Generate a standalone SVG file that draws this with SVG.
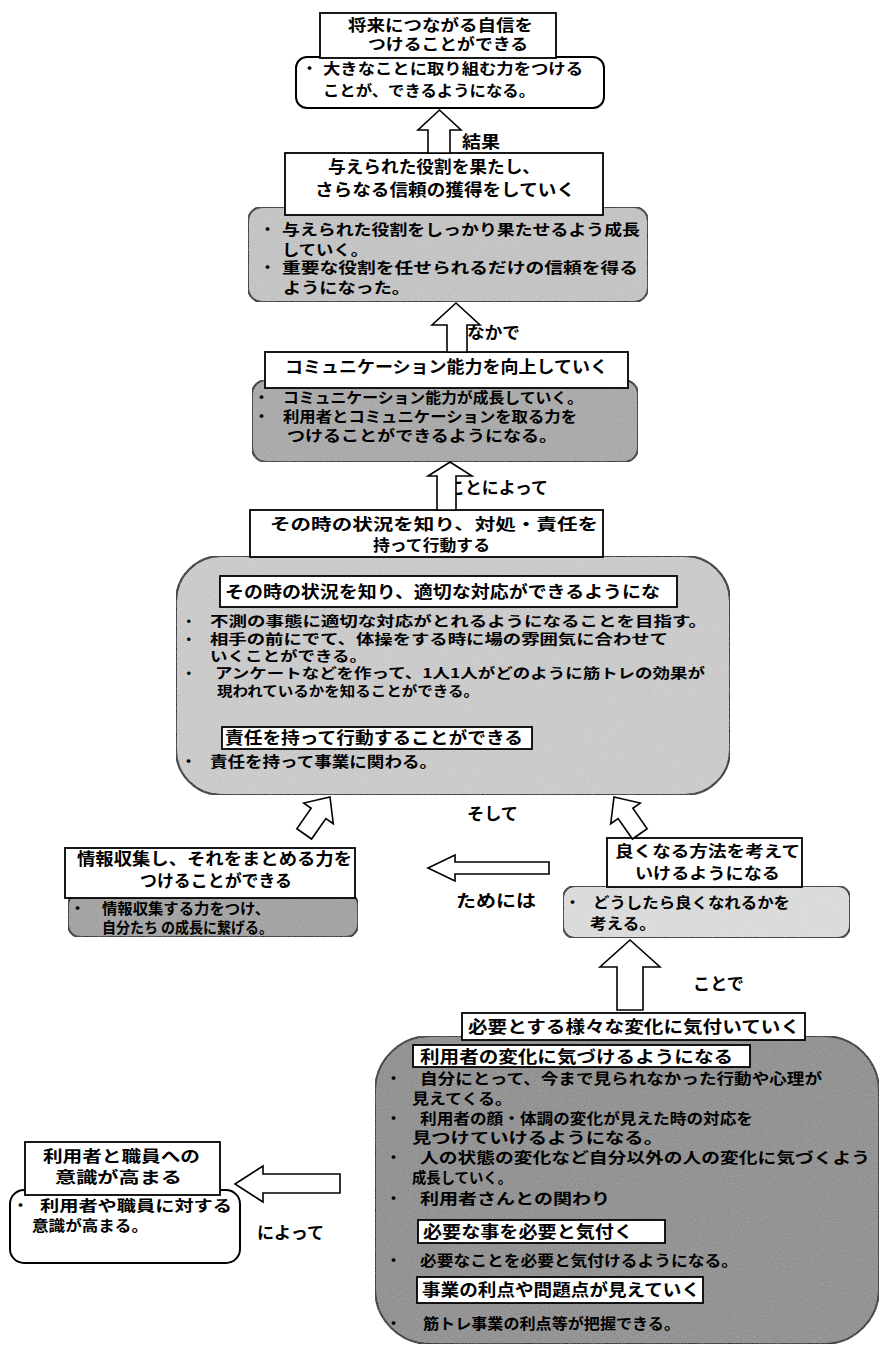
<svg xmlns="http://www.w3.org/2000/svg" width="881" height="1352" viewBox="0 0 881 1352">
<style>
text{font-family:"Noto Sans CJK JP","Noto Sans CJK SC",sans-serif;font-weight:700;fill:#000}
.t{font-size:16.5px}
.ts{font-size:15.5px}
.b{font-size:15px}
.bs{font-size:13.5px}
.l{font-size:16.5px}
.tb{fill:#fff;stroke:#000;stroke-width:1.8}
.bd{stroke:#000;stroke-width:2}
.ar{fill:#fff;stroke:#000;stroke-width:1.6;stroke-linejoin:miter}
</style>
<defs>
<filter id="grain" x="0" y="0" width="100%" height="100%">
<feTurbulence type="fractalNoise" baseFrequency="0.85" numOctaves="2" seed="5" result="noise"/>
<feColorMatrix in="noise" type="saturate" values="0" result="g"/>
<feComponentTransfer in="g" result="g2"><feFuncA type="table" tableValues="0 0.3"/></feComponentTransfer>
<feComposite in="g2" in2="SourceGraphic" operator="in" result="m"/>
<feMerge><feMergeNode in="SourceGraphic"/><feMergeNode in="m"/></feMerge>
</filter>
</defs>
<rect width="881" height="1352" fill="#fff"/>

<g id="n1">
<rect class="bd" x="296" y="57" width="308" height="51" rx="11" fill="#fff"/>
<rect class="tb" x="320" y="13" width="236" height="45"/>
<text class="ts" x="348" y="31" textLength="185" lengthAdjust="spacingAndGlyphs">将来につながる自信を</text>
<text class="ts" x="368" y="50" textLength="160" lengthAdjust="spacingAndGlyphs">つけることができる</text>
<text class="b" x="302" y="74">・</text>
<text class="b" x="323" y="74" textLength="260" lengthAdjust="spacingAndGlyphs">大きなことに取り組む力をつける</text>
<text class="b" x="323" y="96" textLength="212" lengthAdjust="spacingAndGlyphs">ことが、できるようになる。</text>
</g>

<g id="n2">
<rect class="bd" x="248" y="207" width="400" height="95" rx="14" fill="#c6c6c6" filter="url(#grain)"/>
<rect class="tb" x="285" y="153" width="318" height="62"/>
<text class="t" x="328" y="173" textLength="212" lengthAdjust="spacingAndGlyphs">与えられた役割を果たし、</text>
<text class="t" x="315" y="196" textLength="260" lengthAdjust="spacingAndGlyphs">さらなる信頼の獲得をしていく</text>
<text class="b" x="260" y="235">・</text>
<text class="b" x="282" y="235" textLength="358" lengthAdjust="spacingAndGlyphs">与えられた役割をしっかり果たせるよう成長</text>
<text class="b" x="282" y="255" textLength="86" lengthAdjust="spacingAndGlyphs">していく。</text>
<text class="b" x="260" y="273">・</text>
<text class="b" x="282" y="273" textLength="356" lengthAdjust="spacingAndGlyphs">重要な役割を任せられるだけの信頼を得る</text>
<text class="b" x="283" y="293" textLength="127" lengthAdjust="spacingAndGlyphs">ようになった。</text>
</g>

<g id="n3">
<rect class="bd" x="252" y="380" width="386" height="82" rx="14" fill="#a8a8a8" filter="url(#grain)"/>
<rect class="tb" x="265" y="352" width="363" height="36"/>
<text class="t" x="285" y="373" textLength="323" lengthAdjust="spacingAndGlyphs">コミュニケーション能力を向上していく</text>
<text class="b" x="254" y="403">・</text>
<text class="b" x="283" y="403" textLength="300" lengthAdjust="spacingAndGlyphs">コミュニケーション能力が成長していく。</text>
<text class="b" x="254" y="422">・</text>
<text class="b" x="283" y="422" textLength="294" lengthAdjust="spacingAndGlyphs">利用者とコミュニケーションを取る力を</text>
<text class="b" x="287" y="441" textLength="270" lengthAdjust="spacingAndGlyphs">つけることができるようになる。</text>
</g>

<g id="n4">
<rect class="bd" x="176" y="556" width="554" height="239" rx="45" fill="#cecece" filter="url(#grain)"/>
<rect class="tb" x="250" y="510" width="353" height="47"/>
<text class="ts" x="270" y="530" textLength="328" lengthAdjust="spacingAndGlyphs">その時の状況を知り、対処・責任を</text>
<text class="ts" x="373" y="551" textLength="117" lengthAdjust="spacingAndGlyphs">持って行動する</text>
<rect class="tb" x="220" y="576" width="457" height="31"/>
<text class="t" x="225" y="598" textLength="435" lengthAdjust="spacingAndGlyphs">その時の状況を知り、適切な対応ができるようにな</text>
<text class="bs" x="182" y="626">・</text>
<text class="bs" x="210" y="626" textLength="497" lengthAdjust="spacingAndGlyphs">不測の事態に適切な対応がとれるようになることを目指す。</text>
<text class="bs" x="182" y="644">・</text>
<text class="bs" x="210" y="644" textLength="458" lengthAdjust="spacingAndGlyphs">相手の前にでて、体操をする時に場の雰囲気に合わせて</text>
<text class="bs" x="210" y="661" textLength="157" lengthAdjust="spacingAndGlyphs">いくことができる。</text>
<text class="bs" x="182" y="678">・</text>
<text class="bs" x="215" y="678" textLength="490" lengthAdjust="spacingAndGlyphs">アンケートなどを作って、1人1人がどのように筋トレの効果が</text>
<text class="bs" x="217" y="696" textLength="262" lengthAdjust="spacingAndGlyphs">現われているかを知ることができる。</text>
<rect class="tb" x="222" y="727" width="310" height="22"/>
<text class="t" x="225" y="744" textLength="298" lengthAdjust="spacingAndGlyphs">責任を持って行動することができる</text>
<text class="b" x="181" y="767">・</text>
<text class="b" x="210" y="767" textLength="227" lengthAdjust="spacingAndGlyphs">責任を持って事業に関わる。</text>
</g>

<g id="n5">
<rect class="bd" x="68" y="893" width="290" height="44" rx="12" fill="#a0a0a0" filter="url(#grain)"/>
<rect class="tb" x="65" y="848" width="290" height="50"/>
<text class="t" x="77" y="865" textLength="275" lengthAdjust="spacingAndGlyphs">情報収集し、それをまとめる力を</text>
<text class="t" x="140" y="887" textLength="152" lengthAdjust="spacingAndGlyphs">つけることができる</text>
<text class="b" x="70" y="914">・</text>
<text class="b" x="102" y="914" textLength="168" lengthAdjust="spacingAndGlyphs">情報収集する力をつけ、</text>
<text class="b" x="102" y="933" textLength="171" lengthAdjust="spacingAndGlyphs">自分たち の成長に繋げる。</text>
</g>

<g id="n6">
<rect class="bd" x="563" y="886" width="287" height="52" rx="12" fill="#e0e0e0" filter="url(#grain)"/>
<rect class="tb" x="607" y="838" width="195" height="49"/>
<text class="ts" x="615" y="857" textLength="185" lengthAdjust="spacingAndGlyphs">良くなる方法を考えて</text>
<text class="ts" x="635" y="879" textLength="145" lengthAdjust="spacingAndGlyphs">いけるようになる</text>
<text class="b" x="565" y="908">・</text>
<text class="b" x="593" y="908" textLength="197" lengthAdjust="spacingAndGlyphs">どうしたら良くなれるかを</text>
<text class="b" x="590" y="929" textLength="66" lengthAdjust="spacingAndGlyphs">考える。</text>
</g>

<g id="n7">
<rect class="bd" x="375" y="1036" width="504" height="308" rx="55" fill="#8c8c8c" filter="url(#grain)"/>
<rect class="tb" x="462" y="1013" width="343" height="27"/>
<text class="t" x="468" y="1033" textLength="332" lengthAdjust="spacingAndGlyphs">必要とする様々な変化に気付いていく</text>
<rect class="tb" x="413" y="1045" width="337" height="22"/>
<text class="t" x="420" y="1063" textLength="313" lengthAdjust="spacingAndGlyphs">利用者の変化に気づけるようになる</text>
<text class="b" x="386" y="1084">・</text>
<text class="b" x="420" y="1084" textLength="402" lengthAdjust="spacingAndGlyphs">自分にとって、今まで見られなかった行動や心理が</text>
<text class="b" x="412" y="1104" textLength="100" lengthAdjust="spacingAndGlyphs">見えてくる。</text>
<text class="b" x="386" y="1124">・</text>
<text class="b" x="420" y="1124" textLength="333" lengthAdjust="spacingAndGlyphs">利用者の顔・体調の変化が見えた時の対応を</text>
<text class="b" x="412" y="1143" textLength="251" lengthAdjust="spacingAndGlyphs">見つけていけるようになる。</text>
<text class="b" x="386" y="1163">・</text>
<text class="b" x="420" y="1163" textLength="450" lengthAdjust="spacingAndGlyphs">人の状態の変化など自分以外の人の変化に気づくよう</text>
<text class="b" x="412" y="1183" textLength="100" lengthAdjust="spacingAndGlyphs">成長していく。</text>
<text class="b" x="386" y="1204">・</text>
<text class="b" x="420" y="1204" textLength="190" lengthAdjust="spacingAndGlyphs">利用者さんとの関わり</text>
<rect class="tb" x="418" y="1220" width="247" height="23"/>
<text class="t" x="423" y="1238" textLength="210" lengthAdjust="spacingAndGlyphs">必要な事を必要と気付く</text>
<text class="b" x="386" y="1266">・</text>
<text class="b" x="420" y="1266" textLength="318" lengthAdjust="spacingAndGlyphs">必要なことを必要と気付けるようになる。</text>
<rect class="tb" x="417" y="1277" width="286" height="26"/>
<text class="t" x="422" y="1296" textLength="278" lengthAdjust="spacingAndGlyphs">事業の利点や問題点が見えていく</text>
<text class="b" x="386" y="1329">・</text>
<text class="b" x="423" y="1329" textLength="257" lengthAdjust="spacingAndGlyphs">筋トレ事業の利点等が把握できる。</text>
</g>

<g id="n8">
<rect class="bd" x="10" y="1190" width="230" height="73" rx="14" fill="#fff"/>
<rect class="tb" x="25" y="1142" width="195" height="53"/>
<text class="ts" x="43" y="1162" textLength="157" lengthAdjust="spacingAndGlyphs">利用者と職員への</text>
<text class="ts" x="55" y="1183" textLength="127" lengthAdjust="spacingAndGlyphs">意識が高まる</text>
<text class="b" x="13" y="1211">・</text>
<text class="b" x="40" y="1211" textLength="192" lengthAdjust="spacingAndGlyphs">利用者や職員に対する</text>
<text class="b" x="32" y="1231" textLength="116" lengthAdjust="spacingAndGlyphs">意識が高まる。</text>
</g>

<g id="connectors">
<text class="l" x="462" y="148" textLength="38" lengthAdjust="spacingAndGlyphs">結果</text>
<text class="l" x="467" y="339" textLength="53" lengthAdjust="spacingAndGlyphs">なかで</text>
<text class="l" x="448" y="494" textLength="100" lengthAdjust="spacingAndGlyphs">ことによって</text>
<text class="l" x="467" y="820" textLength="51" lengthAdjust="spacingAndGlyphs">そして</text>
<text class="l" x="456" y="907" textLength="80" lengthAdjust="spacingAndGlyphs">ためには</text>
<text class="l" x="693" y="990" textLength="51" lengthAdjust="spacingAndGlyphs">ことで</text>
<text class="l" x="257" y="1239" textLength="67" lengthAdjust="spacingAndGlyphs">によって</text>
<polygon class="ar" points="439.5,110 461,130 450,130 450,153 428,153 428,130 418,130"/>
<polygon class="ar" points="456,303 480,325 467,325 467,352 447,352 447,325 432,325"/>
<polygon class="ar" points="450,462 472,476 456,476 456,510 437,510 437,476 428,476"/>
<polygon class="ar" points="0,0 18,20 9,20 9,45 -9,45 -9,20 -18,20" transform="translate(330,797) rotate(35)"/>
<polygon class="ar" points="0,0 18,20 9,20 9,45 -9,45 -9,20 -18,20" transform="translate(614,797) rotate(-35)"/>
<polygon class="ar" points="428,868 455,855 455,862 549,862 549,874 455,874 455,881"/>
<polygon class="ar" points="630,940 660,967 643,967 643,1010 617,1010 617,967 600,967"/>
<polygon class="ar" points="235,1184 263,1166 263,1174 340,1174 340,1193 263,1193 263,1202"/>
</g>
</svg>
